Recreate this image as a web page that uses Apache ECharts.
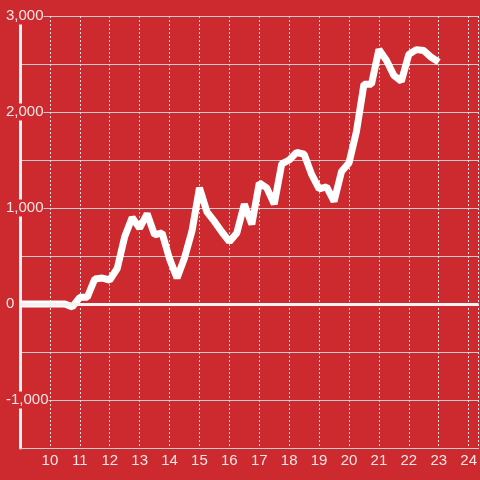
<!DOCTYPE html>
<html>
<head>
<meta charset="utf-8">
<script src="https://cdn.jsdelivr.net/npm/echarts@6/dist/echarts.min.js"></script>
<style>
  html, body { margin: 0; padding: 0; background: #cc2a2e; }
  #chart { width: 480px; height: 480px; }
</style>
</head>
<body>
<div id="chart"></div>
<script>
// hour of day, every 15 minutes
var hours = [
  9.0, 9.25, 9.5, 9.75, 10.0, 10.25, 10.5, 10.75,
  11.0, 11.25, 11.5, 11.75, 12.0, 12.25, 12.5, 12.75,
  13.0, 13.25, 13.5, 13.75, 14.0, 14.25, 14.5, 14.75,
  15.0, 15.25, 15.5, 15.75, 16.0, 16.25, 16.5, 16.75,
  17.0, 17.25, 17.5, 17.75, 18.0, 18.25, 18.5, 18.75,
  19.0, 19.25, 19.5, 19.75, 20.0, 20.25, 20.5, 20.75,
  21.0, 21.25, 21.5, 21.75, 22.0, 22.25, 22.5, 22.75, 23.0
];
var values = [
  0, 0, 0, 0, 0, 0, 0, -30,
  70, 70, 260, 270, 250, 370, 700, 900,
  790, 940, 720, 740, 470, 270, 480, 760,
  1210, 960, 860, 750, 650, 740, 1040, 830,
  1260, 1210, 1040, 1460, 1500, 1580, 1560, 1350,
  1200, 1220, 1070, 1380, 1470, 1800, 2290, 2290,
  2650, 2540, 2380, 2320, 2600, 2650, 2640, 2570, 2520
];
var yLabelValues = [3000, 2000, 1000, 0, -1000];

var points = hours.map(function (h, i) { return [h, values[i]]; });

var textColor = '#f4e6e6';
var chart = echarts.init(document.getElementById('chart'));
chart.setOption({
  backgroundColor: '#cc2a2e',
  animation: false,
  grid: { left: 20, right: 0, top: 16, bottom: 32 },
  xAxis: {
    type: 'value',
    min: 9,
    max: 9 + 460 / 30,
    interval: 1,
    axisLine: { show: true, onZero: false, lineStyle: { color: '#cccccc', width: 1 } },
    axisTick: { show: false },
    axisLabel: {
      showMinLabel: false,
      showMaxLabel: false,
      color: textColor,
      fontSize: 15,
      fontFamily: 'Liberation Sans, Arial, sans-serif',
      margin: 5
    },
    splitLine: { show: true, lineStyle: { color: '#dddddd', width: 1, type: [2, 2] } }
  },
  yAxis: {
    type: 'value',
    min: -1500,
    max: 3000,
    interval: 500,
    axisLine: { show: true, lineStyle: { color: '#f2f2f2', width: 3 } },
    axisTick: { show: false },
    axisLabel: {
      color: textColor,
      fontSize: 15,
      fontFamily: 'Liberation Sans, Arial, sans-serif',
      align: 'left',
      margin: 14,
      backgroundColor: '#cc2a2e',
      padding: [1, 0, 1, 0],
      formatter: function (v) {
        return yLabelValues.indexOf(v) >= 0 ? v.toLocaleString('en-US') : '';
      }
    },
    splitLine: { show: true, lineStyle: { color: '#cccccc', width: 1 } }
  },
  series: [{
    type: 'line',
    data: points,
    showSymbol: false,
    lineStyle: { color: '#ffffff', width: 7 },
    markLine: {
      silent: true,
      symbol: 'none',
      label: { show: false },
      lineStyle: { color: '#f2f2f2', width: 3, type: 'solid' },
      data: [{ yAxis: 0 }]
    },
    z: 3
  }]
});
</script>
</body>
</html>
